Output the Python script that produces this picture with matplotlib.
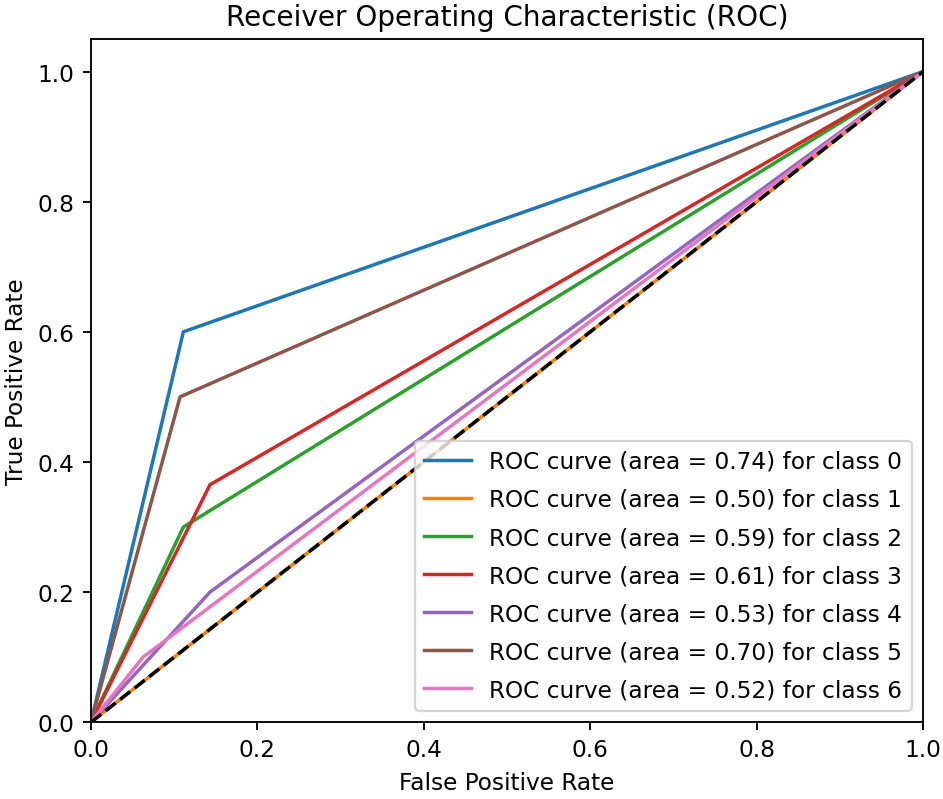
import matplotlib
matplotlib.use("Agg")
import matplotlib.pyplot as plt

# ROC points per class
classes = [0, 1, 2, 3, 4, 5, 6]
fpr = [
    [0.0, 0.111, 1.0],
    [0.0, 1.0],
    [0.0, 0.111, 1.0],
    [0.0, 0.143, 1.0],
    [0.0, 0.143, 1.0],
    [0.0, 0.107, 1.0],
    [0.0, 0.0625, 1.0],
]
tpr = [
    [0.0, 0.60, 1.0],
    [0.0, 1.0],
    [0.0, 0.30, 1.0],
    [0.0, 0.365, 1.0],
    [0.0, 0.20, 1.0],
    [0.0, 0.50, 1.0],
    [0.0, 0.10, 1.0],
]
areas = [0.74, 0.50, 0.59, 0.61, 0.53, 0.70, 0.52]

dpi = 167
fig = plt.figure(figsize=(943 / dpi, 800 / dpi), dpi=dpi)
ax = fig.add_subplot(111)
fig.subplots_adjust(left=0.0965, right=0.979, bottom=0.096, top=0.95)

for i, c in enumerate(classes):
    ax.plot(fpr[i], tpr[i], label=f"ROC curve (area = {areas[i]:.2f}) for class {c}")

ax.plot([0, 1], [0, 1], "k--")
ax.set_xlim(0.0, 1.0)
ax.set_ylim(0.0, 1.05)
ax.set_xlabel("False Positive Rate")
ax.set_ylabel("True Positive Rate")
ax.set_title("Receiver Operating Characteristic (ROC)")
ax.legend(loc="lower right", labelspacing=0.65)

fig.savefig("out.png", dpi=dpi)
